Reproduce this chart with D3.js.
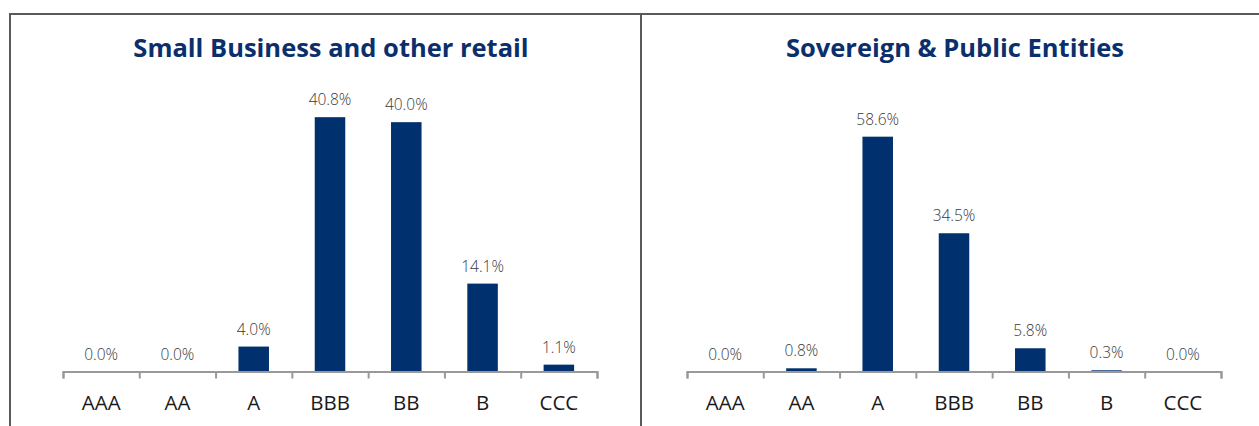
<!DOCTYPE html>
<html>
<head>
<meta charset="utf-8">
<script src="https://cdn.jsdelivr.net/npm/d3@7"></script>
<style>
  body { margin: 0; background: #fff; }
  svg { display: block; font-family: "Open Sans", sans-serif; }
</style>
</head>
<body>
<div id="chart"></div>
<script>
// rating buckets shared by both panels
const ratings = ["AAA", "AA", "A", "BBB", "BB", "B", "CCC"];

const smallBusinessValues = [0.0, 0.0, 4.0, 40.8, 40.0, 14.1, 1.1];
const sovereignValues = [0.0, 0.8, 58.6, 34.5, 5.8, 0.3, 0.0];

const panelTitles = ["Small Business and other retail", "Sovereign & Public Entities"];

const W = 1259, H = 426;
const barColor = "#00306e";

const svg = d3.select("#chart").append("svg")
    .attr("width", W)
    .attr("height", H);

// frame lines (top, left, divider between the two panels)
svg.append("path")
    .attr("d", `M10,${H} V14 H${W} M641,14 V${H}`)
    .attr("fill", "none")
    .attr("stroke", "#5a5a5a")
    .attr("stroke-width", 2);

function drawPanel(x0, x1, title, values, yMax) {
    const axisY = 371.5;
    const topY = 91;

    const g = svg.append("g");

    g.append("text")
        .attr("x", (x0 + x1) / 2 + 1)
        .attr("y", 57)
        .attr("text-anchor", "middle")
        .style("font-size", "25.5px")
        .style("font-weight", "bold")
        .style("fill", "#0b2f6b")
        .text(title);

    const x = d3.scaleBand()
        .domain(ratings)
        .range([x0, x1])
        .paddingInner(0.6)
        .paddingOuter(0.3);

    const y = d3.scaleLinear()
        .domain([0, yMax])
        .range([axisY, topY]);

    // bars
    g.selectAll("rect.bar")
        .data(values)
        .enter()
        .append("rect")
        .attr("class", "bar")
        .attr("x", (d, i) => x(ratings[i]))
        .attr("y", d => y(d))
        .attr("width", x.bandwidth())
        .attr("height", d => axisY - y(d))
        .attr("fill", barColor);

    // value labels
    g.selectAll("text.val")
        .data(values)
        .enter()
        .append("text")
        .attr("class", "val")
        .attr("x", (d, i) => x(ratings[i]) + x.bandwidth() / 2)
        .attr("y", d => y(d) - 12)
        .attr("text-anchor", "middle")
        .style("font-size", "15.5px")
        .style("font-weight", 300)
        .style("fill", "#3a3a3a")
        .text(d => d.toFixed(1) + "%");

    // axis line with ticks at category boundaries
    const edges = d3.scaleLinear().domain([0, ratings.length]).range([x0, x1]);
    const axis = g.append("g")
        .attr("transform", `translate(0,${axisY})`)
        .call(d3.axisBottom(edges).ticks(ratings.length).tickSize(7).tickSizeOuter(7).tickFormat(""));
    axis.select(".domain").attr("stroke", "#999").attr("stroke-width", 2);
    axis.selectAll(".tick line").attr("stroke", "#999").attr("stroke-width", 2);

    // category labels
    const labels = g.append("g")
        .attr("transform", `translate(0,${axisY})`)
        .call(d3.axisBottom(x).tickSize(0).tickPadding(0));
    labels.select(".domain").remove();
    labels.selectAll("text")
        .attr("dy", null)
        .attr("y", 38)
        .style("font-family", "'Open Sans', sans-serif")
        .style("font-size", "20.5px")
        .style("fill", "#1a1a1a");
}

drawPanel(63, 597, panelTitles[0], smallBusinessValues, 45);
drawPanel(687, 1221, panelTitles[1], sovereignValues, 70);
</script>
</body>
</html>
